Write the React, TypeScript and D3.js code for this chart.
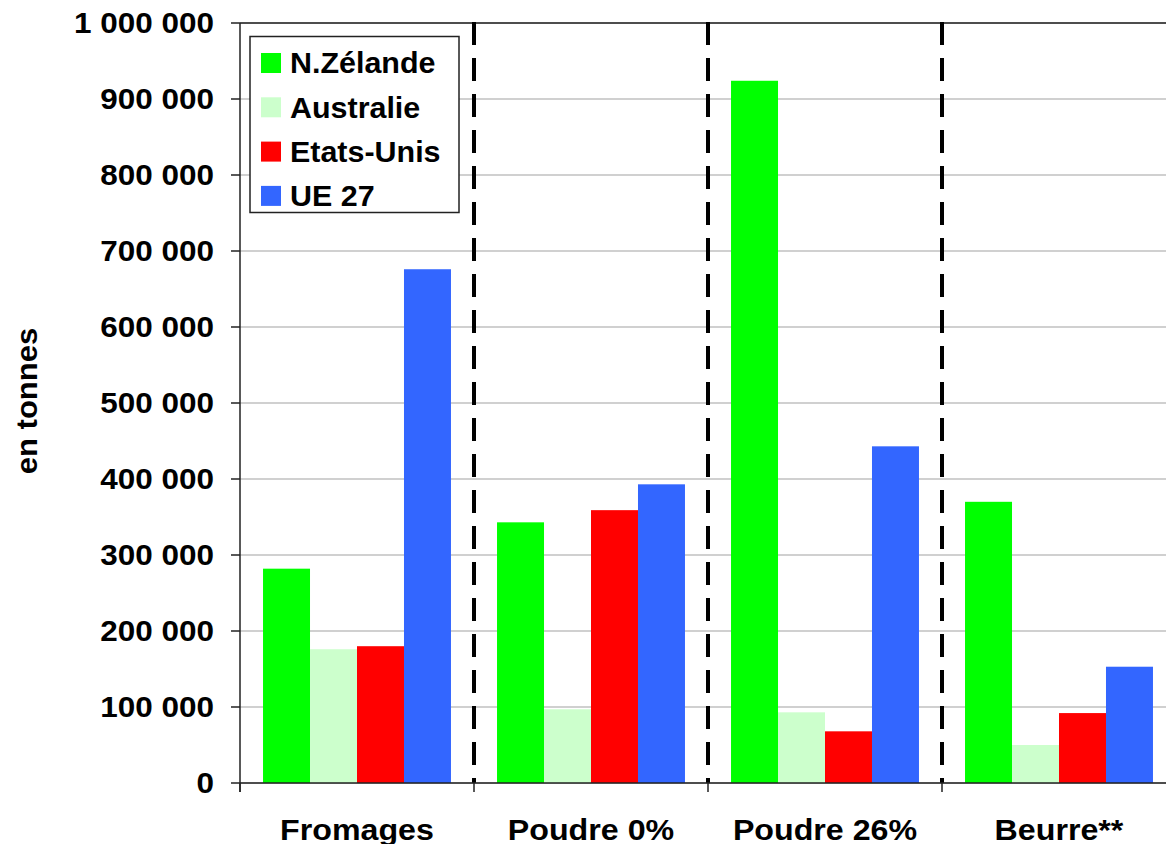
import React from "react";
import * as d3 from "d3";

const categories = ["Fromages", "Poudre 0%", "Poudre 26%", "Beurre**"];
const seriesNames = ["N.Zélande", "Australie", "Etats-Unis", "UE 27"];
const seriesColors = ["#00ff00", "#ccffcc", "#ff0000", "#3366ff"];
const nzValues = [282000, 343000, 924000, 370000];
const auValues = [176000, 97000, 93000, 50000];
const usValues = [180000, 359000, 68000, 92000];
const ueValues = [676000, 393000, 443000, 153000];
const yTicks = [0, 100000, 200000, 300000, 400000, 500000, 600000, 700000, 800000, 900000, 1000000];

const W = 1166;
const H = 844;
const left = 240;
const right = 1176;
const top = 23;
const bottom = 783;
const FONT = "'Liberation Sans', Arial, sans-serif";

const fmt = (v: number) => d3.format(",")(v).replace(/,/g, " ");

function T(props: {
  x: number;
  y: number;
  sx?: number;
  rot?: number;
  anchor?: string;
  dy?: string;
  size?: number;
  children: React.ReactNode;
}) {
  const { x, y, sx = 1.08, rot = 0, anchor = "start", dy, size = 29, children } = props;
  return (
    <text
      transform={`translate(${x},${y}) rotate(${rot}) scale(${sx},1)`}
      textAnchor={anchor}
      dy={dy}
      fontSize={size}
      fontWeight="bold"
      fill="#000"
    >
      {children}
    </text>
  );
}

export default function App() {
  const values = [nzValues, auValues, usValues, ueValues];
  const x0 = d3.scaleBand<string>().domain(categories).range([left, right]).padding(0);
  const x1 = d3
    .scaleBand<string>()
    .domain(seriesNames)
    .range([0, x0.bandwidth()])
    .paddingInner(0)
    .paddingOuter(0.49);
  const y = d3.scaleLinear().domain([0, 1000000]).range([bottom, top]);

  return (
    <svg
      width={W}
      height={H}
      style={{ position: "absolute", left: 0, top: 0, background: "#fff" }}
      fontFamily={FONT}
    >
      <rect x={0} y={0} width={W} height={H} fill="#fff" />
      {yTicks.map((t) => (
        <line key={"g" + t} x1={left} x2={W} y1={y(t)} y2={y(t)} stroke="#c0c0c0" strokeWidth={1.5} />
      ))}
      <line x1={left} x2={W} y1={top} y2={top} stroke="#222" strokeWidth={1.5} />
      {categories.map((c, ci) =>
        seriesNames.map((s, si) => (
          <rect
            key={c + s}
            x={(x0(c) ?? 0) + (x1(s) ?? 0)}
            y={y(values[si][ci])}
            width={x1.bandwidth()}
            height={bottom - y(values[si][ci])}
            fill={seriesColors[si]}
          />
        ))
      )}
      {categories.slice(1).map((c) => (
        <line
          key={"d" + c}
          x1={x0(c)}
          x2={x0(c)}
          y1={top - 1}
          y2={bottom}
          stroke="#000"
          strokeWidth={4}
          strokeDasharray="23 13"
        />
      ))}
      <line x1={left} x2={left} y1={top} y2={bottom + 9} stroke="#222" strokeWidth={1.5} />
      {yTicks.map((t) => (
        <g key={"t" + t}>
          <line x1={left - 9} x2={left} y1={y(t)} y2={y(t)} stroke="#222" strokeWidth={1.5} />
          <T x={214} y={y(t)} dy="0.36em" anchor="end" sx={1.085}>
            {fmt(t)}
          </T>
        </g>
      ))}
      <line x1={left} x2={W} y1={bottom} y2={bottom} stroke="#222" strokeWidth={1.5} />
      {categories.map((c) => (
        <g key={"x" + c}>
          <line x1={x0(c)} x2={x0(c)} y1={bottom} y2={bottom + 9} stroke="#222" strokeWidth={1.5} />
          <T x={(x0(c) ?? 0) + x0.bandwidth() / 2} y={840} anchor="middle" sx={1.11}>
            {c}
          </T>
        </g>
      ))}
      <T x={37} y={401} rot={-90} anchor="middle" sx={1.07}>
        en tonnes
      </T>
      <rect x={250} y={36.5} width={209} height={176} fill="#fff" stroke="#222" strokeWidth={1.5} />
      {seriesNames.map((s, i) => (
        <g key={"l" + s}>
          <rect x={261} y={53 + i * 44.3} width={20} height={20} fill={seriesColors[i]} />
          <T x={290} y={63 + i * 44.3} dy="0.36em" sx={1.05}>
            {s}
          </T>
        </g>
      ))}
    </svg>
  );
}
